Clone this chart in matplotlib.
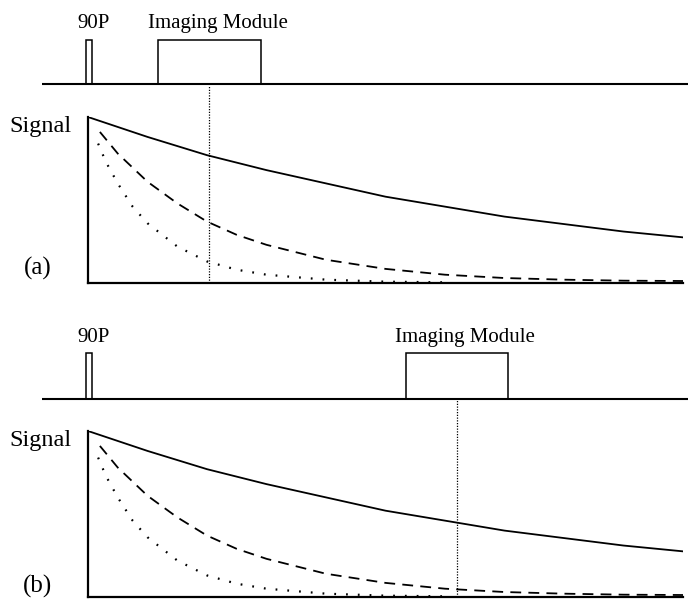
import matplotlib
matplotlib.use("Agg")
import matplotlib.pyplot as plt
from matplotlib.patches import Rectangle

plt.rcParams['font.family'] = ['Liberation Serif', 'DejaVu Serif']

# time axis in arbitrary units (0 = excitation, 100 = right end of plot)
pulse_t = -0.3
pulse_w = 1.0
module_a = (11.8, 29.1)
module_b = (53.4, 70.6)
readout_a = 20.3
readout_b = 62.0
baseline = (-7.7, 100.8)

# decay curves (relative signal)
t_long = [0, 10, 20, 30, 40, 50, 60, 70, 80, 90, 100]
s_long = [1.0, 0.88, 0.77, 0.68, 0.60, 0.52, 0.46, 0.40, 0.355, 0.31, 0.275]
t_mid = [2, 5, 10, 15, 20, 25, 30, 40, 50, 60, 70, 80, 90, 100]
s_mid = [0.91, 0.78, 0.61, 0.48, 0.37, 0.29, 0.23, 0.14, 0.085, 0.05, 0.03, 0.02, 0.014, 0.012]
t_short = [1.7, 3, 5, 7.5, 10, 15, 20, 25, 30, 40, 50, 60]
s_short = [0.84, 0.73, 0.60, 0.46, 0.36, 0.22, 0.13, 0.08, 0.05, 0.02, 0.008, 0.004]

W, H = 688, 599
fig = plt.figure(figsize=(W / 100, H / 100), dpi=100)


def px_rect(x0, y_top, x1, y_bot):
    return [x0 / W, 1 - y_bot / H, (x1 - x0) / W, (y_bot - y_top) / H]


def pulse_panel(rect, module, text_y):
    ax = fig.add_axes(rect)
    ax.set_xlim(0, 100)
    ax.set_ylim(0, 1)
    ax.axis('off')
    ax.plot(baseline, [0, 0], color='black', lw=1.5, clip_on=False, solid_capstyle='butt')
    ax.add_patch(Rectangle((pulse_t, 0), pulse_w, 1, fill=False, ec='black', lw=1.1, clip_on=False))
    ax.add_patch(Rectangle((module[0], 0), module[1] - module[0], 1, fill=False, ec='black', lw=1.1, clip_on=False))
    ax.text(pulse_t + pulse_w / 2 + 0.8, text_y, '90P', ha='center', va='baseline', fontsize=15)
    ax.text((module[0] + module[1]) / 2 + 1.4, text_y, 'Imaging Module', ha='center', va='baseline', fontsize=15)
    return ax


def signal_panel(rect, readout, label, label_y, vline_top):
    ax = fig.add_axes(rect)
    ax.set_xlim(0, 100)
    ax.set_ylim(0, 1)
    for s in ['top', 'right']:
        ax.spines[s].set_visible(False)
    for s in ['left', 'bottom']:
        ax.spines[s].set_linewidth(1.6)
    ax.set_xticks([])
    ax.set_yticks([])
    ax.patch.set_alpha(0)
    ax.plot(t_long, s_long, color='black', lw=1.3)
    ax.plot(t_mid, s_mid, color='black', lw=1.3, linestyle=(0, (6, 4)))
    ax.plot(t_short, s_short, color='black', lw=1.6, linestyle=(0, (0.8, 4.5)))
    ax.plot([readout, readout], [0, vline_top], color='black', lw=0.9,
            linestyle=(0, (1, 1.2)), clip_on=False)
    ax.text(-0.027, 0.91, 'Signal', transform=ax.transAxes, ha='right', va='baseline', fontsize=17.5)
    ax.text(-0.085, label_y, label, transform=ax.transAxes, ha='center', va='center', fontsize=18)
    return ax


pulse_panel(px_rect(88, 40, 683, 84), module_a, 1.27)
signal_panel(px_rect(88, 117, 683, 283), readout_a, '(a)', 0.09, (283 - 85) / 166)

pulse_panel(px_rect(88, 353, 683, 399), module_b, 1.24)
signal_panel(px_rect(88, 431, 683, 597), readout_b, '(b)', 0.065, (597 - 400) / 166)

fig.savefig('out.png', dpi=100)
